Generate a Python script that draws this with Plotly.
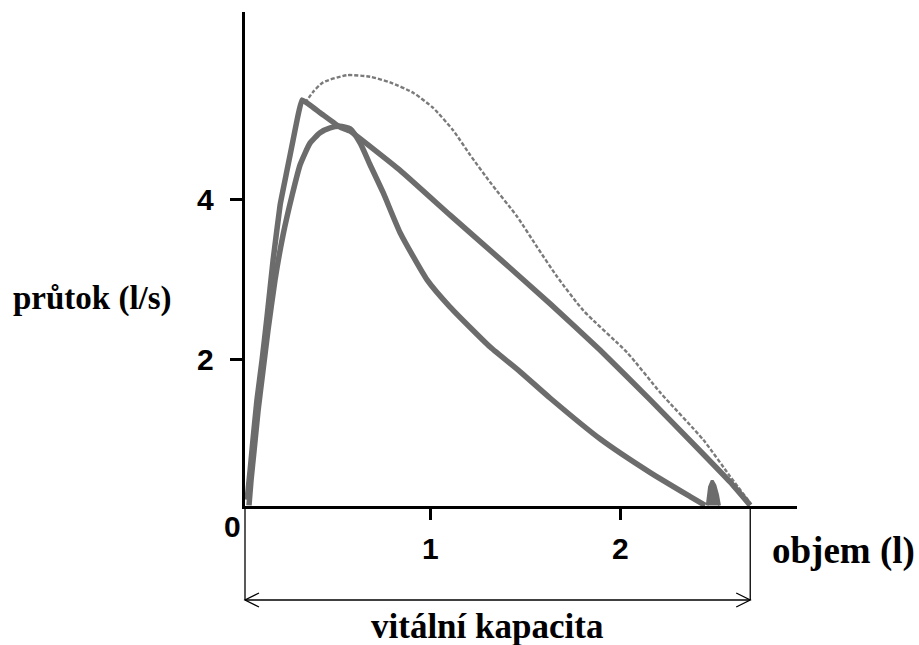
import plotly.graph_objects as go

# ---- data (volume in l, flow in l/s) ----
curve1_x = [0.037, 0.053, 0.068, 0.089, 0.116, 0.142, 0.174, 0.211, 0.247, 0.279, 0.300, 0.326,
            0.421, 0.526, 0.579, 0.842, 1.105, 1.368, 1.632, 1.895, 2.158, 2.421, 2.579, 2.684]
curve1_y = [0.24, 0.61, 0.99, 1.49, 1.99, 2.53, 3.24, 3.93, 4.36, 4.74, 4.99, 5.24,
            5.08, 4.90, 4.85, 4.36, 3.80, 3.25, 2.69, 2.11, 1.49, 0.85, 0.46, 0.17]

curve2_x = [0.047, 0.058, 0.074, 0.095, 0.121, 0.147, 0.184, 0.226, 0.274, 0.316, 0.368, 0.421,
            0.474, 0.526, 0.579, 0.632, 0.684, 0.753, 0.842, 0.984, 1.105, 1.316, 1.474, 1.632,
            1.895, 2.158, 2.368, 2.447]
curve2_y = [0.17, 0.49, 0.86, 1.36, 1.86, 2.36, 2.99, 3.55, 4.05, 4.43, 4.70, 4.83,
            4.89, 4.91, 4.88, 4.70, 4.43, 4.08, 3.58, 2.99, 2.65, 2.15, 1.84, 1.51,
            1.00, 0.58, 0.28, 0.17]

blob_x = [2.458, 2.470, 2.484, 2.498, 2.512, 2.522]
blob_y = [0.17, 0.40, 0.48, 0.42, 0.30, 0.17]

curve3_x = [0.342, 0.384, 0.437, 0.563, 0.684, 0.789, 0.911, 1.016, 1.121, 1.211, 1.316, 1.458,
            1.563, 1.668, 1.805, 2.037, 2.211, 2.437, 2.579, 2.684]
curve3_y = [5.20, 5.34, 5.46, 5.55, 5.53, 5.46, 5.33, 5.14, 4.86, 4.55, 4.21, 3.78,
            3.40, 3.03, 2.61, 2.08, 1.58, 0.99, 0.53, 0.20]

x_ticks = [1, 2]
x_tick_labels = ["1", "2"]
y_ticks = [2, 4]
y_tick_labels = ["2", "4"]
vital_capacity = 2.684

x_title = "objem (l)"
y_title = "průtok (l/s)"
vc_title = "vitální kapacita"

# ---- geometry ----
W, H = 919, 645
L, R, T, B = 245, 797, 12, 506
X_RANGE = [0.026, 2.93]
Y_RANGE = [0.1625, 6.34]


def paper_x(px):
    return (px - L) / (R - L)


def paper_y(py):
    return (B - py) / (B - T)


def data_to_paper_x(v):
    return (v - X_RANGE[0]) / (X_RANGE[1] - X_RANGE[0])


GRAY = "#6c6c6c"
fig = go.Figure()
fig.add_trace(go.Scatter(x=curve3_x, y=curve3_y, mode="lines",
                         line=dict(color="#7a7a7a", width=2.4, dash="4px,2px",
                                   shape="spline", smoothing=0.6),
                         hoverinfo="skip", showlegend=False))
fig.add_trace(go.Scatter(x=curve2_x, y=curve2_y, mode="lines",
                         line=dict(color=GRAY, width=5.5, shape="spline", smoothing=0.5),
                         hoverinfo="skip", showlegend=False))
fig.add_trace(go.Scatter(x=curve1_x, y=curve1_y, mode="lines",
                         line=dict(color=GRAY, width=5.5, shape="spline", smoothing=0.3),
                         hoverinfo="skip", showlegend=False))
fig.add_trace(go.Scatter(x=blob_x, y=blob_y, mode="lines", fill="toself", fillcolor=GRAY,
                         line=dict(color=GRAY, width=3),
                         hoverinfo="skip", showlegend=False))

fig.update_xaxes(range=X_RANGE, showline=True, linecolor="black", linewidth=3,
                 showgrid=False, zeroline=False, tickvals=x_ticks, ticks="outside",
                 ticklen=11, tickwidth=3, tickcolor="black", showticklabels=False)
fig.update_yaxes(range=Y_RANGE, showline=True, linecolor="black", linewidth=3,
                 showgrid=False, zeroline=False, tickvals=y_ticks, ticks="outside",
                 ticklen=12, tickwidth=3, tickcolor="black", showticklabels=False)

num_font = dict(family="Liberation Sans, Arial", size=30, color="black")
serif_font = dict(family="Liberation Serif, Times New Roman", color="black")

ann = []
for v, t in zip(x_ticks, x_tick_labels):
    ann.append(dict(x=v, xref="x", y=paper_y(548), yref="paper", text="<b>%s</b>" % t,
                    showarrow=False, font=num_font, xanchor="center", yanchor="middle"))
for v, t in zip(y_ticks, y_tick_labels):
    ann.append(dict(x=paper_x(205), xref="paper", y=v, yref="y", text="<b>%s</b>" % t,
                    showarrow=False, font=num_font, xanchor="center", yanchor="middle"))
ann.append(dict(x=paper_x(232), xref="paper", y=paper_y(526), yref="paper", text="<b>0</b>",
                showarrow=False, font=num_font, xanchor="center", yanchor="middle"))
ann.append(dict(x=paper_x(92), xref="paper", y=paper_y(298), yref="paper",
                text="<b>%s</b>" % y_title, showarrow=False,
                font=dict(serif_font, size=33), xanchor="center", yanchor="middle"))
ann.append(dict(x=paper_x(843), xref="paper", y=paper_y(551), yref="paper",
                text="<b>%s</b>" % x_title, showarrow=False,
                font=dict(serif_font, size=37), xanchor="center", yanchor="middle"))
ann.append(dict(x=paper_x(487), xref="paper", y=paper_y(626), yref="paper",
                text="<b>%s</b>" % vc_title, showarrow=False,
                font=dict(serif_font, size=35), xanchor="center", yanchor="middle"))

# bracket for vital capacity
xl = paper_x(245)
xr = data_to_paper_x(vital_capacity)
ya = paper_y(600)
yb = paper_y(506)
line_style = dict(color="black", width=1.3)
shapes = [
    dict(type="line", xref="paper", yref="paper", x0=xl, x1=xl, y0=yb, y1=ya, line=line_style),
    dict(type="line", xref="paper", yref="paper", x0=xr, x1=xr, y0=yb, y1=ya, line=line_style),
    dict(type="line", xref="paper", yref="paper", x0=xl, x1=xr, y0=ya, y1=ya, line=line_style),
]
dx = 14 / (R - L)
dy = 7 / (B - T)
shapes.append(dict(type="path", xref="paper", yref="paper",
                   path="M %f,%f L %f,%f L %f,%f" % (xl + dx, ya + dy, xl, ya, xl + dx, ya - dy),
                   line=line_style))
shapes.append(dict(type="path", xref="paper", yref="paper",
                   path="M %f,%f L %f,%f L %f,%f" % (xr - dx, ya + dy, xr, ya, xr - dx, ya - dy),
                   line=line_style))

fig.update_layout(width=W, height=H, margin=dict(l=L, r=W - R, t=T, b=H - B),
                  paper_bgcolor="white", plot_bgcolor="white",
                  annotations=ann, shapes=shapes, showlegend=False)

fig.write_html("out.html")
